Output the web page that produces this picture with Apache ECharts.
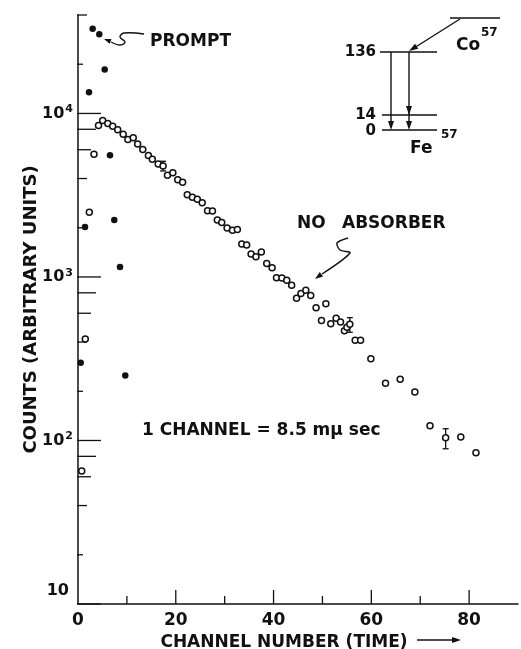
<!DOCTYPE html>
<html>
<head>
<meta charset="utf-8">
<script src="https://cdn.jsdelivr.net/npm/echarts@6/dist/echarts.min.js"></script>
<style>
html, body { margin: 0; background: #fff; }
#chart { width: 521px; height: 649px; }
</style>
</head>
<body>
<div id="chart"></div>
<script>
// prompt (filled) points
var promptChannel = [0.55, 1.43, 2.25, 3.0, 4.36, 5.46, 6.54, 7.42, 8.59, 9.67];
var promptCounts  = [299, 2020, 13500, 33000, 30500, 18600, 5560, 2230, 1150, 250];

// no absorber (open) points
var openChannel = [0.76, 1.49, 2.31, 3.27, 4.19, 5.05, 6.09, 7.10, 8.12, 9.24,
  10.2, 11.3, 12.2, 13.25, 14.4, 15.2, 16.4, 17.4, 18.3, 19.4,
  20.4, 21.4, 22.35, 23.4, 24.4, 25.4, 26.5, 27.5, 28.5, 29.4,
  30.5, 31.6, 32.6, 33.5, 34.5, 35.4, 36.4, 37.5, 38.6, 39.7,
  40.6, 41.7, 42.7, 43.7, 44.7, 45.6, 46.6, 47.6, 48.7, 49.8,
  50.7, 51.7, 52.8, 53.7, 54.5, 55.0, 55.6, 56.7, 57.8, 59.9,
  62.9, 65.9, 68.9, 72.0, 75.2, 78.3, 81.4];
var openCounts = [65, 418, 2485, 5620, 8450, 9040, 8690, 8360, 7940, 7450,
  6940, 7100, 6510, 6010, 5540, 5250, 4900, 4770, 4190, 4340,
  3930, 3800, 3180, 3070, 2990, 2840, 2540, 2530, 2230, 2150,
  1990, 1930, 1950, 1590, 1570, 1380, 1330, 1420, 1210, 1140,
  990, 984, 955, 890, 742, 791, 830, 771, 649, 541,
  686, 518, 560, 531, 469, 492, 513, 410, 410, 316,
  224, 237, 198, 123, 104, 105, 84];

// error bars
var errChannel = [17.4, 55.6, 75.2];
var errLow  = [4450, 459, 89];
var errHigh = [5100, 564, 118];

// axes
var xTicks = [10, 20, 30, 40, 50, 60, 70, 80];
var xLabels = [0, 20, 40, 60, 80];
var yTicks = [10, 20, 40, 60, 80, 100, 200, 400, 600, 800,
  1000, 2000, 4000, 6000, 8000, 10000, 20000, 40000];

var FONT = '"DejaVu Sans"';
var INK = '#111';

var chart = echarts.init(document.getElementById('chart'));

function arrowHead(tip, from, len, half) {
  var dx = tip[0] - from[0], dy = tip[1] - from[1];
  var d = Math.sqrt(dx * dx + dy * dy);
  var ux = dx / d, uy = dy / d;
  var bx = tip[0] - ux * len, by = tip[1] - uy * len;
  return {
    type: 'polygon',
    shape: { points: [tip, [bx - uy * half, by + ux * half], [bx + uy * half, by - ux * half]] },
    style: { fill: INK }
  };
}
function seg(x1, y1, x2, y2, w) {
  return { type: 'line', shape: { x1: x1, y1: y1, x2: x2, y2: y2 }, style: { stroke: INK, lineWidth: w || 1.4 } };
}
function txt(s, x, y, size, align) {
  return {
    type: 'text', x: x, y: y,
    style: { text: s, font: 'bold ' + size + 'px ' + FONT, fill: INK,
      align: align || 'left', verticalAlign: 'middle',
      textAlign: align || 'left', textVerticalAlign: 'middle' }
  };
}

function yTickLen(v) {
  var m = Math.round(v / Math.pow(10, Math.floor(Math.log10(v) + 1e-9)));
  return { 1: 23, 8: 18, 6: 13, 4: 9, 2: 5 }[m];
}

var graphics = [
  // PROMPT label + squiggle
  txt('PROMPT', 150, 42, 17),
  { type: 'polyline', shape: { points: [[144, 34], [124, 33], [120, 37], [125, 42], [120, 45], [111, 42]], smooth: 0.4 },
    style: { stroke: INK, lineWidth: 1.4, fill: null } },
  arrowHead([104, 39], [112, 42], 7, 2.5),
  // NO ABSORBER label + squiggle
  txt('NO', 297, 224, 17),
  txt('ABSORBER', 342, 224, 17),
  { type: 'polyline', shape: { points: [[348, 238], [337, 243], [340, 250], [350, 253], [322, 274]], smooth: 0.3 },
    style: { stroke: INK, lineWidth: 1.4, fill: null } },
  arrowHead([315, 279], [323, 273], 8, 2.8),
  // channel calibration
  txt('1 CHANNEL = 8.5 mμ sec', 142, 431, 17),
  // decay scheme inset
  seg(450, 18, 500, 18),
  seg(460, 19, 414, 48),
  arrowHead([409, 51], [460, 19], 9, 3),
  seg(380, 52, 437, 52),
  seg(382, 115, 437, 115),
  seg(382, 130, 437, 130),
  seg(391, 52, 391, 124),
  arrowHead([391, 130], [391, 52], 9, 3),
  seg(409, 52, 409, 124),
  arrowHead([409, 115], [409, 52], 9, 3),
  arrowHead([409, 130], [409, 52], 9, 3),
  txt('136', 376, 52, 15, 'right'),
  txt('14', 376, 115, 15, 'right'),
  txt('0', 376, 131, 15, 'right'),
  txt('Co', 456, 46, 17),
  txt('57', 481, 33, 12),
  txt('Fe', 410, 149, 17),
  txt('57', 441, 135, 12),
  // arrow after the x axis name
  seg(417, 640, 453, 640),
  arrowHead([461, 640], [417, 640], 9, 3)
];

var option = {
  animation: false,
  backgroundColor: '#fff',
  grid: { left: 78, right: 3, top: 15, bottom: 45, outerBoundsMode: 'none', containLabel: false },
  xAxis: {
    type: 'value', min: 0, max: 90, interval: 10,
    name: 'CHANNEL NUMBER (TIME)', nameLocation: 'middle', nameGap: 29,
    nameTextStyle: { fontFamily: FONT, fontWeight: 'bold', fontSize: 17, color: INK, padding: [0, 28, 0, 0] },
    axisLine: { lineStyle: { color: INK, width: 1.5 } },
    axisTick: { show: false },
    splitLine: { show: false },
    axisLabel: {
      margin: 8, fontFamily: FONT, fontWeight: 'bold', fontSize: 17, color: INK,
      formatter: function (v) { return xLabels.indexOf(v) >= 0 ? String(v) : ''; }
    }
  },
  yAxis: {
    type: 'log', logBase: 10, min: 10, max: 40000,
    name: 'COUNTS (ARBITRARY UNITS)', nameLocation: 'middle', nameGap: 38, nameMoveOverlap: false,
    nameTextStyle: { fontFamily: FONT, fontWeight: 'bold', fontSize: 18, color: INK },
    axisLine: { lineStyle: { color: INK, width: 1.5 } },
    axisTick: { show: false },
    splitLine: { show: false },
    minorTick: { show: false },
    axisLabel: {
      margin: 5, color: INK,
      formatter: function (v) {
        var e = Math.round(Math.log10(v));
        if (Math.abs(Math.log10(v) - e) > 1e-6) return '';
        if (e === 1) return '{b1|10}';
        return '{b|10}{s|' + e + '}';
      },
      rich: {
        b: { fontFamily: FONT, fontWeight: 'bold', fontSize: 16, color: INK },
        b1: { fontFamily: FONT, fontWeight: 'bold', fontSize: 16, color: INK, padding: [0, 4, 26, 0] },
        s: { fontFamily: FONT, fontWeight: 'bold', fontSize: 11, color: INK, verticalAlign: 'top', padding: [0, 0, 8, 1] }
      }
    }
  },
  graphic: graphics,
  series: [
    {
      type: 'custom', silent: true, clip: false,
      data: yTicks.map(function (v) { return [0, v]; }),
      renderItem: function (params, api) {
        var p = api.coord([0, api.value(1)]);
        var len = yTickLen(api.value(1));
        return { type: 'line', shape: { x1: p[0] - 1, y1: p[1], x2: p[0] + len, y2: p[1] }, style: { stroke: INK, lineWidth: 1.3 } };
      }
    },
    {
      type: 'custom', silent: true, clip: false,
      data: xTicks.map(function (v) { return [v, 10]; }),
      renderItem: function (params, api) {
        var v = api.value(0);
        var p = api.coord([v, 10]);
        var len = v % 20 === 0 ? 14 : 8;
        return { type: 'line', shape: { x1: p[0], y1: p[1], x2: p[0], y2: p[1] - len }, style: { stroke: INK, lineWidth: 1.3 } };
      }
    },
    {
      type: 'custom', silent: true,
      data: errChannel.map(function (c, i) { return [c, errLow[i], errHigh[i]]; }),
      renderItem: function (params, api) {
        var lo = api.coord([api.value(0), api.value(1)]);
        var hi = api.coord([api.value(0), api.value(2)]);
        var w = 3;
        var st = { stroke: INK, lineWidth: 1.3 };
        return { type: 'group', children: [
          { type: 'line', shape: { x1: lo[0], y1: lo[1], x2: hi[0], y2: hi[1] }, style: st },
          { type: 'line', shape: { x1: lo[0] - w, y1: lo[1], x2: lo[0] + w, y2: lo[1] }, style: st },
          { type: 'line', shape: { x1: hi[0] - w, y1: hi[1], x2: hi[0] + w, y2: hi[1] }, style: st }
        ] };
      }
    },
    {
      name: 'No absorber', type: 'scatter', symbol: 'circle', symbolSize: 6,
      itemStyle: { color: '#fff', borderColor: INK, borderWidth: 1.5, opacity: 1 },
      data: openChannel.map(function (c, i) { return [c, openCounts[i]]; })
    },
    {
      name: 'Prompt', type: 'scatter', symbol: 'circle', symbolSize: 6.5,
      itemStyle: { color: INK, opacity: 1 },
      data: promptChannel.map(function (c, i) { return [c, promptCounts[i]]; })
    }
  ]
};

chart.setOption(option);
</script>
</body>
</html>
